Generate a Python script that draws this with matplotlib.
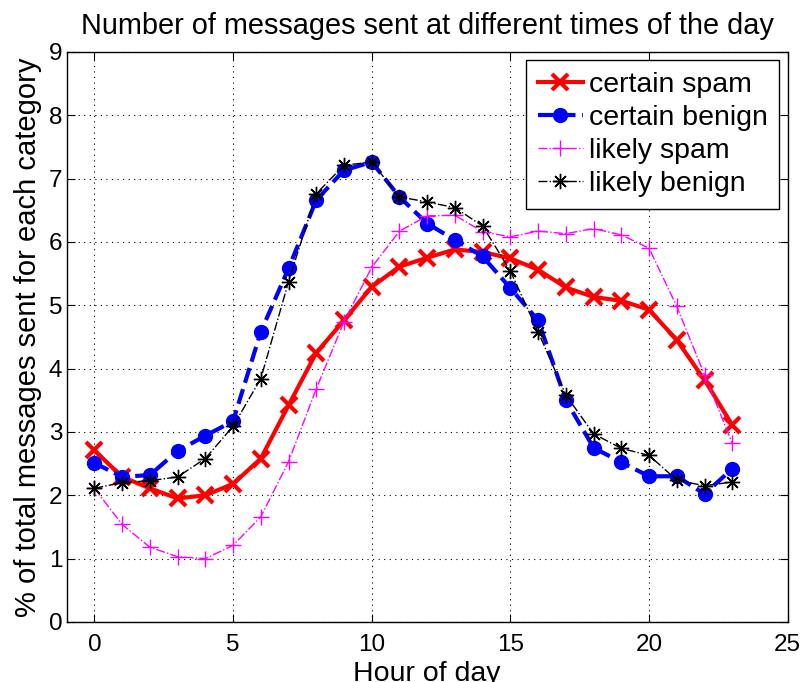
"""Hourly distribution of sent messages per classification category."""

import matplotlib
matplotlib.use('Agg')
import matplotlib.pyplot as plt
import numpy as np

plt.rcParams['font.family'] = ['Liberation Sans', 'DejaVu Sans']

hours = np.arange(24)

certain_spam = [2.71, 2.29, 2.11, 1.95, 2.00, 2.18, 2.58, 3.42, 4.25, 4.76,
                5.29, 5.61, 5.75, 5.88, 5.84, 5.74, 5.56, 5.28, 5.13, 5.07,
                4.93, 4.45, 3.82, 3.11]
certain_benign = [2.51, 2.29, 2.32, 2.70, 2.94, 3.17, 4.58, 5.58, 6.66, 7.13,
                  7.26, 6.71, 6.29, 6.03, 5.77, 5.27, 4.76, 3.50, 2.75, 2.52,
                  2.30, 2.30, 2.02, 2.42]
likely_spam = [2.11, 1.54, 1.18, 1.03, 1.00, 1.21, 1.66, 2.53, 3.68, 4.74,
               5.60, 6.17, 6.41, 6.42, 6.16, 6.08, 6.17, 6.13, 6.21, 6.11,
               5.90, 4.98, 3.90, 2.82]
likely_benign = [2.11, 2.20, 2.23, 2.29, 2.58, 3.09, 3.84, 5.37, 6.76, 7.21,
                 7.26, 6.71, 6.63, 6.54, 6.25, 5.54, 4.58, 3.58, 2.97, 2.74,
                 2.63, 2.24, 2.15, 2.21]

fig = plt.figure(figsize=(8.03, 6.82), dpi=100)
ax = fig.add_axes([0.083, 0.088, 0.898, 0.836])

# MATLAB-style asterisk: 8 spokes
asterisk = (8, 2, 0)

ax.plot(hours, certain_spam, color='red', linestyle='-', linewidth=3,
        marker='x', markersize=12, markeredgewidth=3, label='certain spam')
ax.plot(hours, certain_benign, color='blue', linestyle='--', linewidth=3,
        marker='o', markersize=10, label='certain benign')
ax.plot(hours, likely_spam, color='magenta', linestyle='-.', linewidth=1,
        marker='+', markersize=12, markeredgewidth=1, label='likely spam')
ax.plot(hours, likely_benign, color='black', linestyle='-.', linewidth=1,
        marker=asterisk, markersize=11, markeredgewidth=1, label='likely benign')

ax.set_xlim(-1, 25)
ax.set_ylim(0, 9)
ax.set_xticks(range(0, 26, 5))
ax.set_yticks(range(0, 10))
ax.tick_params(direction='in', top=True, right=True, labelsize=17.5,
               length=6, width=0.8)
ax.tick_params(axis='x', pad=8.5)
ax.tick_params(axis='y', pad=3)
ax.grid(True, color='black', linestyle=(0, (1, 4)), linewidth=0.8)
for spine in ax.spines.values():
    spine.set_linewidth(1.0)

ax.set_title('Number of messages sent at different times of the day',
             fontsize=20.8, pad=13)
ax.set_xlabel('Hour of day', fontsize=20.5, labelpad=3.5)
ax.set_ylabel('% of total messages sent for each category', fontsize=21,
              labelpad=5)

leg = ax.legend(loc='upper right', fontsize=20.5, fancybox=False,
                framealpha=1, edgecolor='black', handlelength=1.6,
                handletextpad=0.2, borderpad=0.4, labelspacing=0.25,
                borderaxespad=0.3)
leg.get_frame().set_linewidth(1.0)

plt.savefig('out.png', dpi=100)
plt.close()
